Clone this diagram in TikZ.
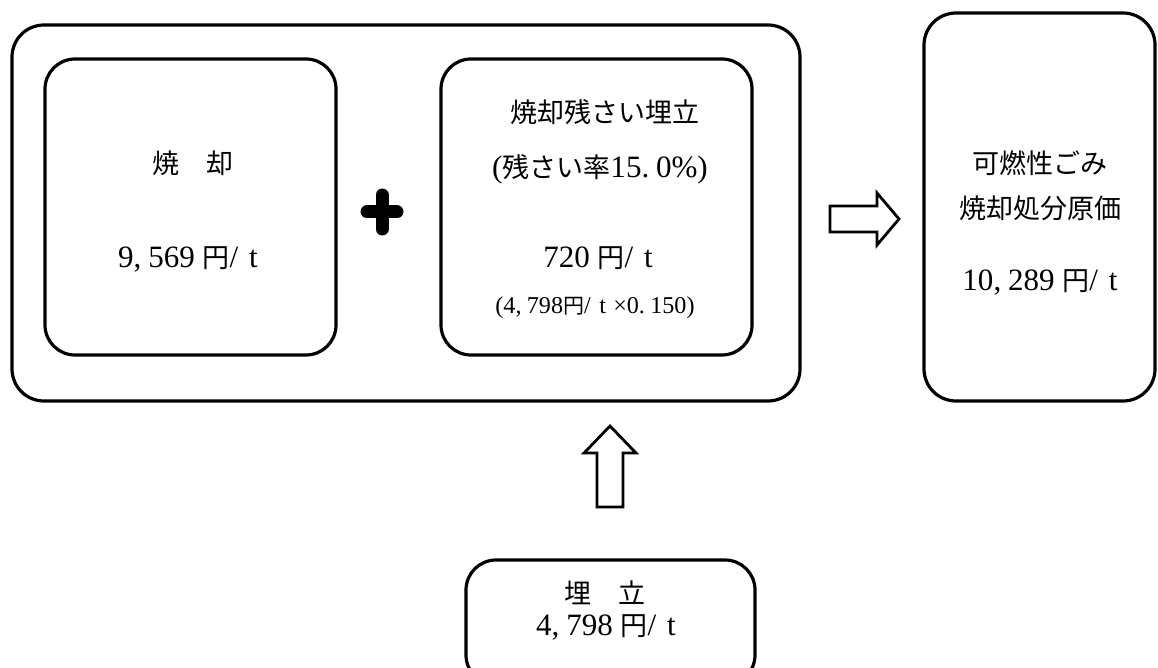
\documentclass[tikz,border=0pt]{standalone}
\usepackage{fontspec}
\setmainfont{Liberation Serif}[Scale=1.15]
\newfontfamily\jp{Noto Sans CJK JP}
\newcommand\enpt{{\jp 円}}
\newcommand\cg{\hspace{.22em}}
\begin{document}
\begin{tikzpicture}[x=1pt,y=-1pt,
  box/.style={draw,line width=3.2pt,rounded corners=32pt,inner sep=0pt},
  lbl/.style={font=\fontsize{27}{32}\selectfont,inner sep=0pt,anchor=base},
  small/.style={font=\fontsize{21}{25}\selectfont,inner sep=0pt,anchor=base},
  blockarrow/.style={draw,line width=2.8pt,line join=miter,fill=white}]
\useasboundingbox (0,0) rectangle (1158,668);
\clip (0,0) rectangle (1158,668);
% boxes
\node[box,minimum width=788pt,minimum height=376pt] (outer) at (406,213) {};
\node[box,rounded corners=30pt,minimum width=291pt,minimum height=296pt] (b1) at (190.5,207) {};
\node[box,rounded corners=30pt,minimum width=311pt,minimum height=296pt] (b2) at (596.5,207) {};
\node[box,minimum width=231pt,minimum height=388pt] (rb) at (1039.5,207) {};
\node[box,rounded corners=30pt,minimum width=289pt,minimum height=125pt] (bb) at (610.5,622.5) {};
% texts box 1
\node[lbl] (t1a) at (193,174) {\jp 焼　却};
\node[lbl] (t1b) at (188,267) {9,\cg 569 \enpt/\hspace{.35em}t};
% texts box 2
\node[lbl] (t2a) at (605,123) {\jp 焼却残さい埋立};
\node[lbl] (t2b) at (600,178) {({\jp 残さい率}15.\cg 0\%)};
\node[lbl] (t2c) at (598,267) {720 \enpt/\hspace{.35em}t};
\node[small] (t2d) at (595,313) {(4,\cg 798\enpt/\hspace{.35em}t\hspace{.3em}×0.\cg 150)};
% right box
\node[lbl] (t3a) at (1040,174) {\jp 可燃性ごみ};
\node[lbl] (t3b) at (1040,219) {\jp 焼却処分原価};
\node[lbl] (t3c) at (1040,290) {10,\cg 289 \enpt/\hspace{.35em}t};
% bottom box
\node[lbl] (t4a) at (605,603) {\jp 埋　立};
\node[lbl] (t4b) at (606,635) {4,\cg 798 \enpt/\hspace{.35em}t};
% plus
\draw[line width=13pt,line cap=round] (367,212) -- (397,212) (382,195) -- (382,229);
% right arrow
\draw[blockarrow] (830,206) -- (877,206) -- (877,193) -- (899,219) -- (877,245) -- (877,232) -- (830,232) -- cycle;
% up arrow
\draw[blockarrow] (597,507) -- (597,453) -- (584,453) -- (610,426) -- (636,453) -- (623,453) -- (623,507) -- cycle;
\end{tikzpicture}
\end{document}
